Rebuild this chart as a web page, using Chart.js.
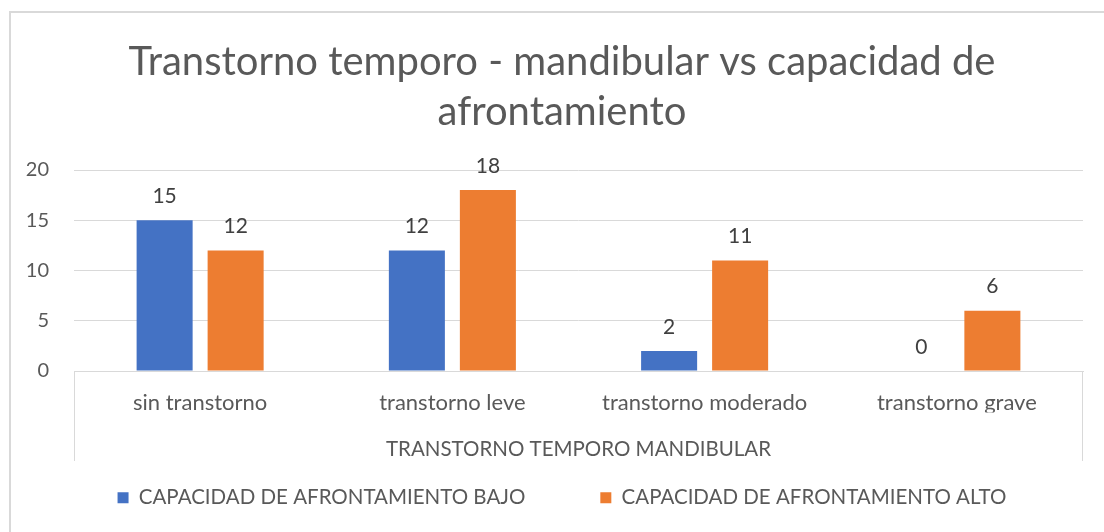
<!DOCTYPE html>
<html>
<head>
<meta charset="utf-8">
<script src="https://cdn.jsdelivr.net/npm/chart.js@4/dist/chart.umd.min.js"></script>
<style>
  html, body { margin: 0; padding: 0; background: #ffffff; }
</style>
</head>
<body>
<canvas id="chart" width="1104" height="532"></canvas>
<script>
// data
const categories = ["sin transtorno", "transtorno leve", "transtorno moderado", "transtorno grave"];
const seriesNames = ["CAPACIDAD DE AFRONTAMIENTO BAJO", "CAPACIDAD DE AFRONTAMIENTO ALTO"];
const bajoValues = [15, 12, 2, 0];
const altoValues = [12, 18, 11, 6];
const yTickValues = [0, 5, 10, 15, 20];
const titleLines = ["Transtorno temporo - mandibular vs capacidad de", "afrontamiento"];
const axisTitle = "TRANSTORNO TEMPORO MANDIBULAR";

const FONT = "Lato, 'Open Sans', sans-serif";
const GRID = "#d9d9d9";
const TEXT = "#595959";
const Y_FONT = 20;

// y labels are mirrored (so they are not clipped to the narrow scale box)
// and pushed back left of the plot; this is how far
const measure = document.createElement("canvas").getContext("2d");
measure.font = Y_FONT + "px " + FONT;
const widestY = Math.max(...yTickValues.map(v => measure.measureText(String(v)).width));
const yLabelRight = 49;

// outer frame + the box under the category axis
const framePlugin = {
    id: "frame",
    beforeDraw(chart) {
        const ctx = chart.ctx;
        ctx.save();
        ctx.strokeStyle = GRID;
        ctx.lineWidth = 2;
        ctx.beginPath();
        ctx.moveTo(10, chart.height);
        ctx.lineTo(10, 12);
        ctx.lineTo(chart.width, 12);
        ctx.stroke();

        const a = chart.chartArea;
        ctx.lineWidth = 1;
        ctx.beginPath();
        ctx.moveTo(Math.round(a.left) + 0.5, a.bottom);
        ctx.lineTo(Math.round(a.left) + 0.5, a.bottom + 90);
        ctx.moveTo(Math.round(a.right) - 0.5, a.bottom);
        ctx.lineTo(Math.round(a.right) - 0.5, a.bottom + 90);
        ctx.stroke();
        ctx.restore();
    }
};

// value labels above the bars
const valueLabels = {
    id: "valueLabels",
    afterDatasetsDraw(chart) {
        const ctx = chart.ctx;
        ctx.save();
        ctx.font = "21px " + FONT;
        ctx.fillStyle = "#404040";
        ctx.textAlign = "center";
        ctx.textBaseline = "middle";
        chart.data.datasets.forEach((ds, i) => {
            chart.getDatasetMeta(i).data.forEach((bar, j) => {
                ctx.fillText(String(ds.data[j]), bar.x, bar.y - 24);
            });
        });
        ctx.restore();
    }
};

new Chart(document.getElementById("chart"), {
    type: "bar",
    data: {
        labels: categories,
        datasets: [{
            label: seriesNames[0],
            data: bajoValues,
            backgroundColor: "#4472c4",
            categoryPercentage: 0.563,
            barPercentage: 0.789
        }, {
            label: seriesNames[1],
            data: altoValues,
            backgroundColor: "#ed7d31",
            categoryPercentage: 0.563,
            barPercentage: 0.789
        }]
    },
    options: {
        responsive: false,
        animation: false,
        layout: { padding: { left: 41, right: 21, top: 0, bottom: 14 } },
        plugins: {
            title: {
                display: true,
                text: titleLines,
                color: TEXT,
                font: { family: FONT, size: 40, weight: "normal", lineHeight: 1.25 },
                padding: { top: 37, bottom: 33 }
            },
            legend: {
                position: "bottom",
                labels: {
                    color: TEXT,
                    font: { family: FONT, size: 20.5 },
                    boxWidth: 11,
                    boxHeight: 11,
                    padding: 75
                }
            },
            tooltip: { enabled: false }
        },
        scales: {
            x: {
                grid: { display: false, drawTicks: false },
                border: { display: true, color: GRID },
                ticks: { color: TEXT, font: { family: FONT, size: 22 }, padding: 19 },
                title: {
                    display: true,
                    text: axisTitle,
                    color: TEXT,
                    font: { family: FONT, size: 20.5 },
                    padding: { top: 0, bottom: -48.8 }
                },
                afterFit(scale) { scale.height = 41.5; }
            },
            y: {
                min: 0,
                max: 20,
                grid: { color: GRID, drawTicks: false },
                border: { display: false },
                afterBuildTicks(scale) { scale.ticks = yTickValues.map(v => ({ value: v })); },
                ticks: {
                    color: TEXT,
                    font: { family: FONT, size: Y_FONT },
                    mirror: true,
                    crossAlign: "far",
                    padding: yLabelRight - 74 - widestY
                },
                afterFit(scale) { scale.width = 33; }
            }
        }
    },
    plugins: [framePlugin, valueLabels]
});
</script>
</body>
</html>
